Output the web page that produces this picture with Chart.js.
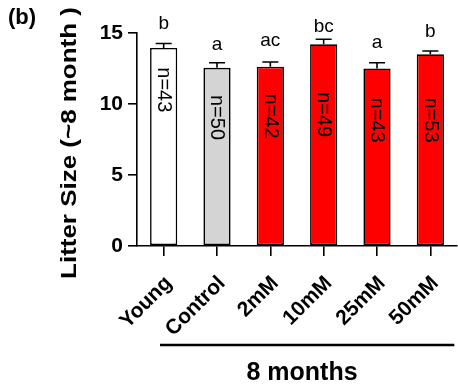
<!DOCTYPE html>
<html>
<head>
<meta charset="utf-8">
<script src="https://cdn.jsdelivr.net/npm/chart.js@4/dist/chart.umd.min.js"></script>
<style>
  html, body { margin: 0; padding: 0; background: #ffffff; }
  #wrap { width: 458px; height: 388px; position: relative; }
</style>
</head>
<body>
<div id="wrap"><canvas id="c" width="458" height="388"></canvas></div>
<script>
// ---- data ----
const categories = ['Young', 'Control', '2mM', '10mM', '25mM', '50mM'];
const litterSize = [13.95, 12.55, 12.63, 14.2, 12.5, 13.5];
const sem = [0.31, 0.35, 0.33, 0.36, 0.4, 0.23];
const sigLetters = ['b', 'a', 'ac', 'bc', 'a', 'b'];
const sampleSizes = [43, 50, 42, 49, 43, 53];
const yTicks = [0, 5, 10, 15];
const groupLabel = '8 months';
const yTitle = 'Litter Size (~8 month )';
const panelLabel = '(b)';

const barColors = ['#ffffff', '#d4d4d4', '#ff0000', '#ff0000', '#ff0000', '#ff0000'];
const FONT = '"Liberation Sans", Arial, Helvetica, sans-serif';

const annotations = {
  id: 'annotations',
  afterDatasetsDraw(chart, args, opts) {
    const ctx = chart.ctx;
    const ys = chart.scales.y;
    const xs = chart.scales.x;
    const meta = chart.getDatasetMeta(0);
    ctx.save();
    ctx.fillStyle = '#000';
    ctx.strokeStyle = '#000';
    meta.data.forEach((bar, i) => {
      const cx = bar.x;
      const yBar = ys.getPixelForValue(litterSize[i]);
      const yTop = ys.getPixelForValue(litterSize[i] + sem[i]);
      ctx.lineWidth = 1.6;
      ctx.beginPath();
      ctx.moveTo(cx, yBar);
      ctx.lineTo(cx, yTop);
      ctx.moveTo(cx - 8, yTop);
      ctx.lineTo(cx + 8, yTop);
      ctx.stroke();
      // significance letters
      ctx.font = '19px ' + FONT;
      ctx.textAlign = 'center';
      ctx.textBaseline = 'alphabetic';
      ctx.fillText(sigLetters[i], cx, yTop - opts.letterGap[i]);
      // sample size label inside bar
      ctx.save();
      ctx.translate(cx, ys.getPixelForValue(opts.nLabelPos[i]));
      ctx.rotate(Math.PI / 2);
      ctx.font = '20px ' + FONT;
      ctx.textAlign = 'center';
      ctx.textBaseline = 'middle';
      ctx.fillText('n=' + sampleSizes[i], 0, 0);
      ctx.restore();
    });
    // group bracket
    const lx0 = xs.getPixelForValue(1) - 57;
    const lx1 = xs.getPixelForValue(5) + 24;
    ctx.lineWidth = 2.5;
    ctx.beginPath();
    ctx.moveTo(lx0, 345);
    ctx.lineTo(lx1, 345);
    ctx.stroke();
    ctx.font = 'bold 25px ' + FONT;
    ctx.textAlign = 'center';
    ctx.textBaseline = 'alphabetic';
    ctx.fillText(groupLabel, 302, 380);
    // y-axis title
    ctx.save();
    ctx.translate(70, 143);
    ctx.rotate(-Math.PI / 2);
    ctx.scale(1.18, 1);
    ctx.font = 'bold 22px ' + FONT;
    ctx.textAlign = 'center';
    ctx.textBaseline = 'middle';
    ctx.fillText(yTitle, 0, 0);
    ctx.restore();
    // panel label
    ctx.font = 'bold 22px ' + FONT;
    ctx.textAlign = 'left';
    ctx.textBaseline = 'alphabetic';
    ctx.fillText(panelLabel, 8, 24);
    ctx.restore();
  }
};

new Chart(document.getElementById('c'), {
  type: 'bar',
  data: {
    labels: categories,
    datasets: [{
      data: litterSize,
      backgroundColor: barColors,
      borderColor: '#000',
      borderWidth: 1.6,
      borderSkipped: false,
      barPercentage: 0.51,
      categoryPercentage: 1.0
    }]
  },
  options: {
    responsive: false,
    animation: false,
    devicePixelRatio: 1,
    layout: { padding: { top: 33, right: 1, bottom: 42, left: 0 } },
    plugins: {
      legend: { display: false },
      tooltip: { enabled: false },
      annotations: {
        letterGap: [15, 13, 16, 7, 15, 14],
        nLabelPos: [11.0, 9.05, 9.15, 9.26, 8.87, 8.87]
      }
    },
    scales: {
      x: {
        afterFit: (s) => { s.height = 100; s.paddingLeft = 0; s.paddingRight = 0; },
        grid: { display: true, drawOnChartArea: false, drawTicks: true, tickLength: 10, color: '#000', lineWidth: 1.6, offset: false },
        border: { display: true, color: '#000', width: 1.6 },
        ticks: {
          color: '#000',
          font: { family: FONT, size: 21, weight: 'bold' },
          minRotation: 45, maxRotation: 45,
          padding: 15,
          labelOffset: 5,
          autoSkip: false
        }
      },
      y: {
        min: 0, max: 15,
        afterFit: (s) => { s.width = 137; },
        afterBuildTicks: (s) => { s.ticks = yTicks.map(v => ({ value: v })); },
        grid: { display: true, drawOnChartArea: false, drawTicks: true, tickLength: 9, color: '#000', lineWidth: 1.6 },
        border: { display: true, color: '#000', width: 1.6 },
        ticks: {
          color: '#000',
          font: { family: FONT, size: 21, weight: 'bold' },
          padding: 5
        }
      }
    }
  },
  plugins: [annotations]
});
</script>
</body>
</html>
